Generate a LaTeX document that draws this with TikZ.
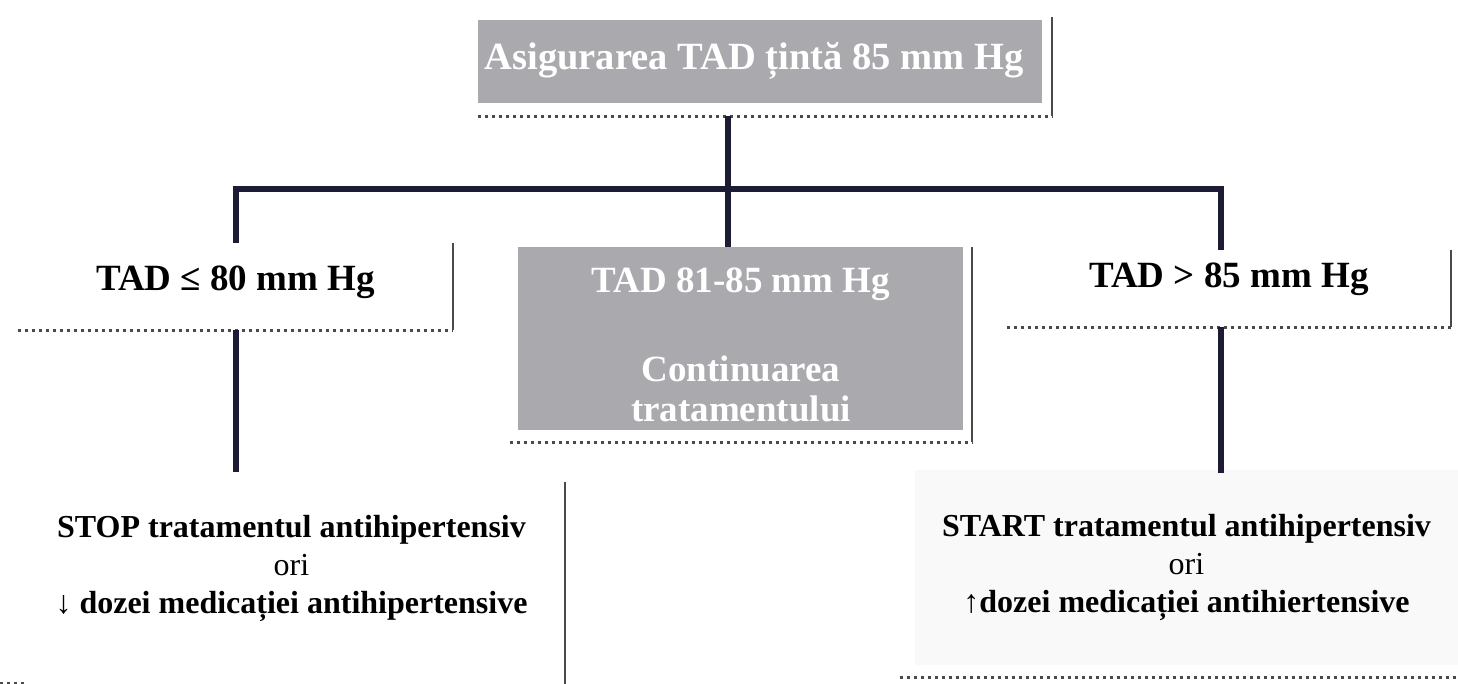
\documentclass[tikz,border=0pt]{standalone}
\usepackage{fontspec}
\setmainfont{Liberation Serif}
\usetikzlibrary{backgrounds}
\definecolor{conncol}{HTML}{1C1C34}
\definecolor{boxgray}{HTML}{AAAAAE}
\definecolor{dotgray}{HTML}{4A4A4A}
\begin{document}
\begin{tikzpicture}[x=1pt,y=-1pt,
    conn/.style={draw=conncol,line width=6pt},
    dotline/.style={draw=dotgray,line width=3pt,dash pattern=on 3.5pt off 3.5pt},
    rim/.style={draw=dotgray,line width=1.6pt},
    boxtext/.style={font=\fontsize{37}{40}\selectfont\bfseries,inner sep=0pt},
    lowtext/.style={font=\fontsize{32}{38}\selectfont\bfseries,align=center,inner sep=0pt}]
  \useasboundingbox (0,0) rectangle (1458,683);

  \node[boxtext,font=\fontsize{38.5}{40}\selectfont\bfseries,text=white,minimum width=574pt,minimum height=99pt,text height=25pt,text depth=20pt]
    (tinta) at (765,66.5) {Asigurarea TAD țintă 85 mm Hg\hspace*{22pt}};
  \node[boxtext,minimum width=435pt,minimum height=87pt,text height=25pt,text depth=18pt]
    (low) at (235.5,286.5) {TAD ≤ 80 mm Hg};
  \node[boxtext,text=white,align=center,minimum width=462pt,minimum height=195pt]
    (mid) at (741,344.5) {TAD 81-85 mm Hg\\[49pt]Continuarea\\tratamentului};
  \node[boxtext,minimum width=444pt,minimum height=77pt,text height=25pt,text depth=28pt]
    (high) at (1229,288.5) {TAD > 85 mm Hg};
  \node[lowtext,minimum width=547pt,minimum height=236pt] (stop) at (291.5,568)
    {STOP tratamentul antihipertensiv\\{\mdseries ori}\\↓ dozei medicației antihipertensive};
  \node[lowtext,minimum width=543pt,minimum height=207pt] (start) at (1186.5,567)
    {START tratamentul antihipertensiv\\{\mdseries ori}\\↑dozei medicației antihiertensive};

  \begin{pgfonlayer}{background}
    \fill[white] (0,0) rectangle (1458,683);
    \fill[boxgray] ([yshift=-3pt]tinta.north west) rectangle ([xshift=-10pt,yshift=13pt]tinta.south east);
    \fill[boxgray] ([xshift=8pt]mid.north west) rectangle ([xshift=-9pt,yshift=12pt]mid.south east);
    \fill[black!2.5] ([yshift=-6.5pt]start.north west) rectangle ([yshift=5.5pt]start.south east);
  \end{pgfonlayer}

  \draw[rim] (tinta.north east) -- (tinta.south east);
  \draw[dotline] (tinta.south west) -- (tinta.south east);
  \draw[rim] (low.north east) -- (low.south east);
  \draw[dotline] (low.south west) -- (low.south east);
  \draw[rim] (mid.north east) -- (mid.south east);
  \draw[dotline] (mid.south west) -- (mid.south east);
  \draw[rim] (high.north east) -- (high.south east);
  \draw[dotline] (high.south west) -- (high.south east);
  \draw[rim] ([yshift=-32pt]stop.north east) -- (stop.south east);
  \draw[dotline] ([xshift=-18pt,yshift=3pt]stop.south west) -- ++(28,0);
  \draw[dotline] ([xshift=-15pt,yshift=-6.5pt]start.south west) -- ([yshift=-6.5pt]start.south east);

  \coordinate (fork) at (728,189);
  \coordinate (lowend) at (236,472);
  \coordinate (highend) at (1221,473);
  \draw[conn] (tinta.south -| fork) -- (fork);
  \draw[conn] (lowend |- low.north) -- (lowend |- fork) -- (highend |- fork) -- (highend |- high.north);
  \draw[conn] (fork) -- (fork |- mid.north);
  \draw[conn] (lowend |- low.south) -- (lowend);
  \draw[conn] (highend |- high.south) -- (highend);
\end{tikzpicture}
\end{document}
